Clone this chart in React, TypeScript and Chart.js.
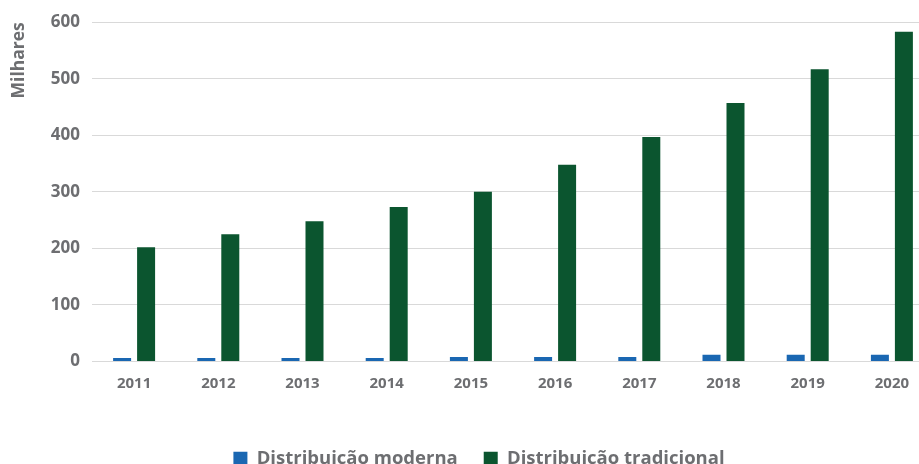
import React, { useEffect, useRef } from "react";
import { Chart, registerables } from "chart.js";

Chart.register(...registerables);

const categories = ["2011", "2012", "2013", "2014", "2015", "2016", "2017", "2018", "2019", "2020"];
const moderna = [6, 6, 6, 6, 8, 8, 8, 12, 12, 12];
const tradicional = [202, 225, 248, 273, 300, 348, 397, 457, 517, 583];
const seriesNames = ["Distribuicão moderna", "Distribuicão tradicional"];
const yTicks = [0, 100, 200, 300, 400, 500, 600];

const FONT = "'Open Sans', sans-serif";
const GRAY = "#6d6e71";

const legendShift = {
  id: "legendShift",
  afterLayout(chart: any) {
    if (chart.legend) {
      chart.legend.left += 12;
      chart.legend.right += 12;
    }
  },
};

export default function App() {
  const ref = useRef<HTMLCanvasElement | null>(null);
  useEffect(() => {
    if (!ref.current) return;
    const chart = new Chart(ref.current, {
      type: "bar",
      data: {
        labels: categories,
        datasets: [
          { label: seriesNames[0], data: moderna, backgroundColor: "#1a67b2", categoryPercentage: 0.57, barPercentage: 0.75 },
          { label: seriesNames[1], data: tradicional, backgroundColor: "#0b552f", categoryPercentage: 0.57, barPercentage: 0.75 },
        ],
      },
      plugins: [legendShift],
      options: {
        animation: false,
        responsive: false,
        maintainAspectRatio: false,
        layout: { padding: { top: 14, left: 0, right: 0, bottom: 0 } },
        plugins: {
          tooltip: { enabled: false },
          legend: {
            position: "bottom",
            labels: {
              color: GRAY,
              font: { family: FONT, size: 18.5, weight: "bold" },
              boxWidth: 14,
              boxHeight: 14,
              padding: 26,
            },
          },
        },
        scales: {
          x: {
            grid: { display: false, drawTicks: false },
            border: { display: false },
            ticks: { color: GRAY, font: { family: FONT, size: 15, weight: "bold" }, padding: 13 },
            afterFit: (s: any) => { s.height = 62; },
          },
          y: {
            min: 0,
            max: 600,
            afterBuildTicks: (s: any) => { s.ticks = yTicks.map((v) => ({ value: v })); },
            grid: { color: "#d9d9d9", lineWidth: 1, drawTicks: false },
            border: { display: false },
            ticks: { color: GRAY, font: { family: FONT, size: 17, weight: "bold" }, padding: 12 },
            title: {
              display: true,
              text: "Milhares",
              align: "end",
              color: GRAY,
              font: { family: FONT, size: 17.5, weight: "bold" },
              padding: { top: 9, bottom: 0 },
            },
            afterFit: (s: any) => { s.width = 92; },
          },
        },
      },
    });
    return () => chart.destroy();
  }, []);
  return (
    <div style={{ position: "fixed", left: 0, top: 0, width: 919, height: 464, overflow: "hidden", background: "#fff" }}>
      <canvas ref={ref} width={934} height={478} style={{ display: "block" }} />
    </div>
  );
}
